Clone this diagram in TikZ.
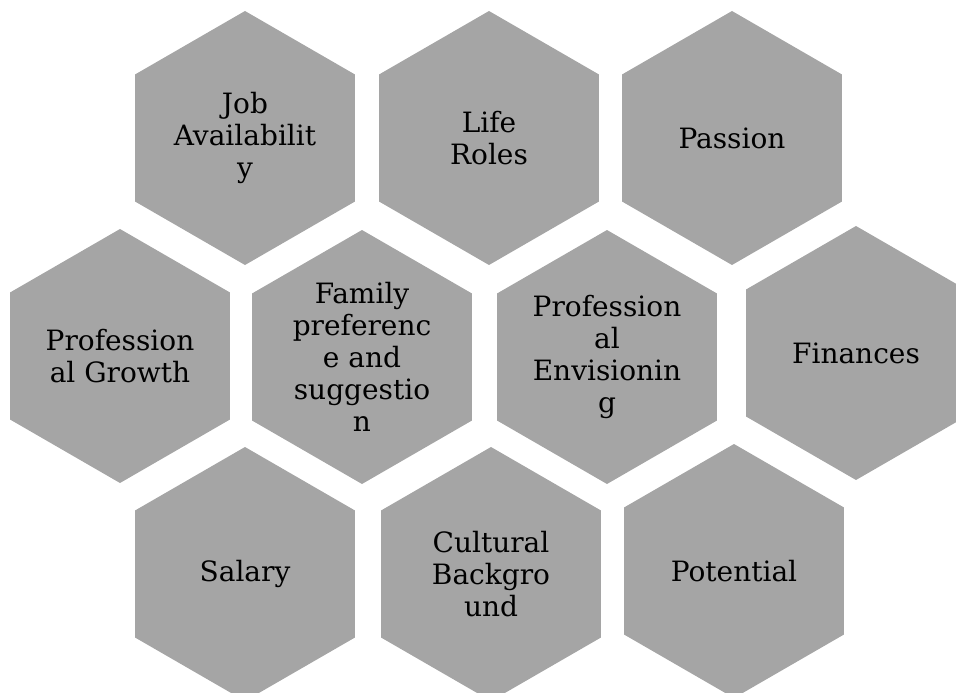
\documentclass[tikz,border=0pt]{standalone}
\usepackage{fontspec}
\setmainfont{DejaVu Serif}
\usetikzlibrary{shapes.geometric}
\definecolor{hexgray}{RGB}{165,165,165}

\begin{document}
\begin{tikzpicture}[
  x=1pt,
  y=-1pt,
  hexcell/.style={
    regular polygon,
    regular polygon sides=6,
    shape border rotate=30,
    fill=hexgray,
    draw=none,
    minimum size=254pt,
    inner sep=0pt,
    text=black,
    align=center,
    font=\fontsize{28}{32}\selectfont
  }
]
\useasboundingbox (0,0) rectangle (956,693);

% top row
\node[hexcell] (job) at (245,138) {Job\\Availabilit\\y};
\node[hexcell] (roles) at (489,138) {Life\\Roles};
\node[hexcell] (passion) at (732,138) {Passion};

% middle row
\node[hexcell] (growth) at (120,356) {Profession\\al Growth};
\node[hexcell] (family) at (362,357) {Family\\preferenc\\e and\\suggestio\\n};
\node[hexcell] (envision) at (607,357) {Profession\\al\\Envisionin\\g};
\node[hexcell] (finances) at (856,353) {Finances};

% bottom row
\node[hexcell] (salary) at (245,574) {Salary};
\node[hexcell] (culture) at (491,574) {Cultural\\Backgro\\und};
\node[hexcell] (potential) at (734,571) {Potential};

\end{tikzpicture}
\end{document}
